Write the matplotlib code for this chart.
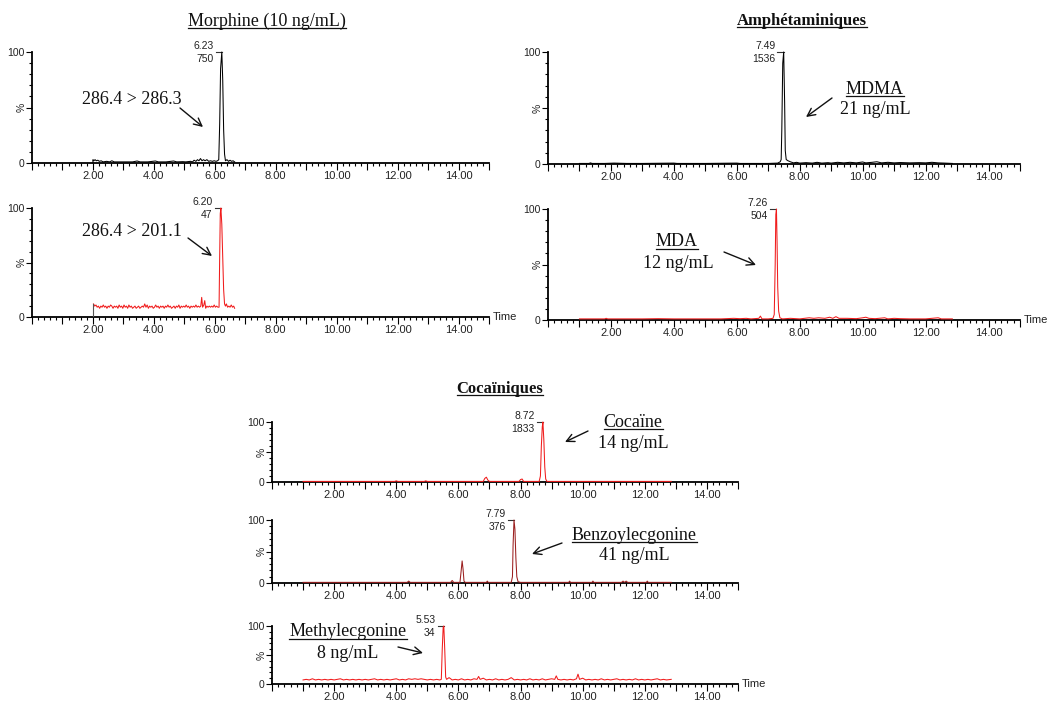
import numpy as np
import matplotlib.pyplot as plt
from matplotlib.ticker import MultipleLocator, FuncFormatter
from matplotlib.lines import Line2D
from matplotlib.patches import FancyArrowPatch
import matplotlib.transforms as mtransforms

# chromatogram traces, (time in min, % of base peak)
morphine_286 = [(2.00, 0), (2.00, 3), (2.03, 2), (2.07, 3), (2.11, 2), (2.16, 2.5), (2.21, 1.5),
                (2.27, 2), (2.33, 1), (2.45, 1.5), (2.55, 1), (2.62, 2), (2.70, 1), (2.90, 1),
                (3.10, 1), (3.30, 1), (3.45, 1.8), (3.55, 1), (3.80, 1), (4.05, 1.8), (4.15, 1),
                (4.40, 1), (4.65, 1.8), (4.75, 1), (4.95, 1.2), (5.05, 1), (5.20, 1.5), (5.27, 1),
                (5.32, 2.5), (5.38, 1.5), (5.43, 3), (5.48, 2), (5.53, 4), (5.58, 2), (5.63, 3),
                (5.68, 2), (5.74, 3), (5.80, 1.5), (5.86, 2), (5.92, 1.5), (5.98, 2), (6.04, 1.5),
                (6.09, 2), (6.13, 3), (6.16, 35), (6.19, 85), (6.23, 100), (6.26, 75), (6.29, 30),
                (6.32, 8), (6.35, 2), (6.40, 3), (6.45, 1.5), (6.50, 2.5), (6.55, 1.5), (6.60, 2),
                (6.65, 1)]

morphine_201 = [(2.02, 12), (2.06, 10), (2.10, 11), (2.14, 9), (2.18, 10), (2.22, 8), (2.26, 10),
                (2.30, 9), (2.34, 11), (2.38, 9), (2.42, 10), (2.46, 8), (2.50, 10), (2.54, 9),
                (2.58, 11), (2.62, 10), (2.66, 8), (2.70, 10), (2.74, 9), (2.78, 10), (2.82, 8),
                (2.86, 11), (2.90, 9), (2.94, 10), (2.98, 8), (3.02, 11), (3.06, 9), (3.10, 10),
                (3.14, 8), (3.18, 11), (3.22, 9), (3.26, 10), (3.30, 8), (3.34, 9), (3.38, 10),
                (3.42, 8), (3.46, 9), (3.50, 10), (3.54, 8), (3.58, 9), (3.62, 10), (3.66, 9),
                (3.70, 12), (3.74, 9), (3.78, 11), (3.82, 8), (3.86, 10), (3.90, 9), (3.94, 10),
                (3.98, 8), (4.02, 9), (4.06, 11), (4.10, 9), (4.14, 10), (4.18, 8), (4.22, 10),
                (4.26, 9), (4.30, 10), (4.34, 8), (4.38, 10), (4.42, 9), (4.46, 11), (4.50, 9),
                (4.54, 10), (4.58, 8), (4.62, 9), (4.66, 10), (4.70, 8), (4.74, 10), (4.78, 9),
                (4.82, 11), (4.86, 8), (4.90, 10), (4.94, 9), (4.98, 10), (5.02, 9), (5.06, 11),
                (5.10, 9), (5.14, 10), (5.18, 8), (5.22, 10), (5.26, 9), (5.30, 10), (5.34, 9),
                (5.38, 11), (5.42, 9), (5.46, 10), (5.50, 9), (5.54, 10), (5.57, 18), (5.60, 9),
                (5.64, 11), (5.67, 15), (5.70, 8), (5.74, 10), (5.78, 9), (5.82, 10), (5.86, 9),
                (5.90, 10), (5.94, 9), (5.98, 11), (6.02, 9), (6.06, 10), (6.10, 9), (6.14, 9),
                (6.16, 55), (6.18, 95), (6.20, 100), (6.23, 85), (6.26, 55), (6.29, 25), (6.32, 12),
                (6.35, 10), (6.38, 12), (6.42, 9), (6.46, 10), (6.50, 9), (6.54, 11), (6.58, 9),
                (6.62, 10), (6.65, 8)]

mdma = [(1.00, 0.5), (1.30, 0.5), (1.35, 1), (1.40, 0.5), (1.80, 0.5), (2.10, 0.8), (2.50, 0.5),
        (3.00, 0.5), (4.00, 0.8), (4.10, 0.5), (5.00, 0.5), (6.00, 0.8), (6.10, 0.5), (7.00, 0.5),
        (7.30, 0.8), (7.38, 2), (7.41, 4), (7.43, 30), (7.46, 90), (7.49, 100), (7.52, 55),
        (7.54, 12), (7.57, 4), (7.62, 3), (7.70, 2), (7.80, 1), (7.90, 1.5), (8.00, 0.8),
        (8.20, 1.2), (8.40, 0.8), (8.55, 1.5), (8.70, 0.8), (8.90, 1.2), (9.00, 0.8), (9.20, 1.5),
        (9.40, 1), (9.60, 1.5), (9.80, 1), (10.00, 1.8), (10.10, 1), (10.30, 1.5), (10.45, 2),
        (10.60, 1), (10.80, 1.5), (11.00, 1), (11.20, 1.3), (11.50, 1), (11.80, 1.2), (12.00, 1),
        (12.20, 1.5), (12.40, 1), (12.60, 0.8), (12.85, 0.5)]

mda = [(1.00, 1), (1.80, 1), (1.85, 1.5), (1.90, 1), (2.50, 1), (3.00, 1), (3.50, 1.2), (4.00, 1),
       (4.50, 1), (5.00, 1), (5.50, 1), (5.90, 1.5), (6.10, 1.2), (6.30, 1.5), (6.45, 1),
       (6.70, 1.5), (6.75, 3.5), (6.80, 1), (7.00, 1), (7.15, 1.5), (7.19, 5), (7.22, 50),
       (7.24, 95), (7.26, 100), (7.28, 70), (7.30, 30), (7.33, 8), (7.37, 2), (7.45, 1),
       (7.70, 1.5), (8.00, 1), (8.30, 2), (8.45, 1.5), (8.60, 2), (8.80, 1.5), (8.95, 2.5),
       (9.05, 1.5), (9.15, 3), (9.25, 1.5), (9.50, 1.5), (9.80, 1.2), (10.00, 2), (10.10, 2.5),
       (10.20, 1.5), (10.40, 1.2), (10.70, 2), (10.80, 1), (11.00, 1.5), (11.20, 1.2),
       (11.50, 1), (12.00, 1), (12.40, 2), (12.50, 1), (12.85, 1)]

cocaine = [(1.00, 1), (2.00, 1), (3.00, 1), (3.95, 1), (4.00, 2), (4.05, 1), (4.90, 1), (4.95, 2),
           (5.00, 1), (6.00, 1), (6.80, 1), (6.85, 6), (6.90, 8), (6.95, 3), (7.00, 1), (7.95, 1),
           (8.00, 4), (8.05, 5), (8.10, 1), (8.60, 1), (8.64, 10), (8.67, 60), (8.70, 92),
           (8.72, 100), (8.75, 70), (8.78, 25), (8.81, 5), (8.85, 1), (9.50, 1), (10.50, 1),
           (11.50, 1), (12.85, 1)]

benzoylecgonine = [(1.00, 1), (2.00, 1), (3.00, 1), (4.35, 1), (4.40, 3), (4.45, 1), (5.75, 1),
                   (5.80, 4), (5.85, 1), (6.05, 1), (6.09, 20), (6.12, 35), (6.15, 22), (6.18, 3),
                   (6.22, 1), (6.90, 1), (6.93, 3), (6.96, 1), (7.70, 1), (7.74, 10), (7.76, 60),
                   (7.79, 100), (7.82, 85), (7.85, 40), (7.88, 10), (7.92, 2), (8.00, 1),
                   (9.55, 1), (9.58, 3), (9.61, 1), (10.30, 1), (10.33, 3), (10.36, 1), (11.25, 1),
                   (11.30, 3), (11.35, 1), (11.40, 3), (11.45, 1), (12.05, 1), (12.08, 3),
                   (12.11, 1), (12.85, 1)]

methylecgonine = [(1.00, 7), (1.10, 8), (1.20, 7), (1.30, 9), (1.40, 7), (1.50, 8), (1.60, 7),
                  (1.70, 8), (1.80, 7), (1.90, 8), (2.00, 7), (2.10, 8), (2.20, 9), (2.30, 7),
                  (2.40, 8), (2.50, 7), (2.60, 8), (2.70, 7), (2.80, 8), (2.90, 7), (3.00, 8),
                  (3.10, 7), (3.20, 8), (3.30, 9), (3.40, 7), (3.50, 8), (3.60, 7), (3.70, 8),
                  (3.80, 7), (3.90, 8), (4.00, 9), (4.10, 7), (4.20, 8), (4.30, 7), (4.40, 9),
                  (4.50, 8), (4.60, 9), (4.70, 8), (4.80, 9), (4.90, 8), (5.00, 7), (5.10, 8),
                  (5.20, 7), (5.30, 8), (5.40, 7), (5.45, 8), (5.48, 60), (5.51, 98), (5.53, 100),
                  (5.56, 60), (5.59, 12), (5.62, 8), (5.70, 11), (5.80, 7), (5.90, 8), (6.00, 7),
                  (6.10, 9), (6.20, 7), (6.30, 8), (6.40, 7), (6.50, 9), (6.60, 8), (6.65, 13),
                  (6.70, 8), (6.80, 10), (6.90, 7), (7.00, 8), (7.10, 7), (7.20, 9), (7.30, 7),
                  (7.40, 8), (7.50, 7), (7.60, 8), (7.70, 11), (7.80, 7), (7.90, 8), (8.00, 7),
                  (8.10, 8), (8.20, 7), (8.30, 9), (8.40, 7), (8.50, 8), (8.60, 7), (8.70, 9),
                  (8.80, 7), (8.90, 8), (9.00, 9), (9.10, 8), (9.15, 14), (9.20, 8), (9.30, 7),
                  (9.40, 8), (9.50, 7), (9.60, 8), (9.70, 7), (9.80, 9), (9.85, 17), (9.90, 8),
                  (10.00, 10), (10.10, 7), (10.20, 8), (10.30, 7), (10.40, 8), (10.50, 7),
                  (10.60, 9), (10.70, 7), (10.80, 8), (10.90, 7), (11.00, 8), (11.10, 9),
                  (11.20, 7), (11.30, 8), (11.40, 7), (11.50, 8), (11.60, 7), (11.70, 9),
                  (11.80, 7), (11.90, 8), (12.00, 7), (12.10, 8), (12.20, 7), (12.30, 8),
                  (12.40, 9), (12.50, 7), (12.60, 8), (12.70, 7), (12.85, 8)]

# peak labels: retention time, intensity
peaks = {
    'morphine_286': (6.23, '750'),
    'morphine_201': (6.20, '47'),
    'mdma': (7.49, '1536'),
    'mda': (7.26, '504'),
    'cocaine': (8.72, '1833'),
    'benzoylecgonine': (7.79, '376'),
    'methylecgonine': (5.53, '34'),
}

W, H = 1051, 702
fig = plt.figure(figsize=(W / 100, H / 100), dpi=100)
plt.rcParams['font.family'] = 'Liberation Sans'
SERIF = 'Liberation Serif'
RED = '#f01c1c'


def rect(x0, x1, y0, y1):
    return [x0 / W, 1 - y1 / H, (x1 - x0) / W, (y1 - y0) / H]


def fxy(x, y):
    return (x / W, 1 - y / H)


def tick_fmt(x, pos):
    if 2 <= x <= 14 and int(round(x)) % 2 == 0:
        return f'{x:.2f}'
    return ''


def panel(box, trace, color, key, time_label=False):
    ax = fig.add_axes(rect(*box))
    t, v = np.array(trace).T
    ax.plot(t, v, color=color, lw=0.75, clip_on=False, zorder=3)
    ax.set_xlim(0, 15)
    ax.set_ylim(0, 100)
    for s in ('top', 'right'):
        ax.spines[s].set_visible(False)
    for s in ('left', 'bottom'):
        ax.spines[s].set_linewidth(1.3)
    ax.xaxis.set_major_locator(MultipleLocator(1))
    ax.xaxis.set_minor_locator(MultipleLocator(0.2))
    ax.xaxis.set_major_formatter(FuncFormatter(tick_fmt))
    ax.set_yticks([0, 50, 100], ['0', '', '100'])
    ax.yaxis.set_minor_locator(MultipleLocator(10))
    ax.tick_params(which='major', length=4, width=0.8, labelsize=7.5, pad=1.2, labelcolor='#222')
    ax.tick_params(which='minor', length=2, width=0.8)
    ax.tick_params(axis='x', which='major', length=5, labelsize=8, pad=1.0)
    trans = mtransforms.blended_transform_factory(ax.transAxes, ax.transData)
    ax.text(-0.012, 50, '%', rotation=90, fontsize=7.5, ha='right', va='center',
            color='#222', transform=trans)
    rt, height = peaks[key]
    ax.plot([rt - 0.2, rt], [100, 100], color='#333', lw=0.8, clip_on=False)
    ax.annotate(f'{rt:.2f}', (rt, 100), xytext=(-6, 0.5), textcoords='offset points',
                ha='right', va='bottom', fontsize=7.5, color='#222')
    ax.annotate(height, (rt, 100), xytext=(-6, -1.5), textcoords='offset points',
                ha='right', va='top', fontsize=7.5, color='#222')
    if time_label:
        ax.text(1.008, 0, 'Time', transform=ax.transAxes, fontsize=8,
                ha='left', va='center', color='#222')
    return ax


ax1 = panel((32, 489, 52, 163), morphine_286, 'black', 'morphine_286')
ax2 = panel((32, 489, 208, 317), morphine_201, RED, 'morphine_201', time_label=True)
ax2.plot([2.0, 2.0], [0, 12], color='#555', lw=0.8, zorder=4)
ax3 = panel((548, 1020, 52, 164), mdma, 'black', 'mdma')
ax4 = panel((548, 1020, 209, 320), mda, RED, 'mda', time_label=True)
ax5 = panel((272, 738, 422, 482), cocaine, RED, 'cocaine')
ax6 = panel((272, 738, 520, 583), benzoylecgonine, '#9b1f1f', 'benzoylecgonine')
ax7 = panel((272, 738, 626, 684), methylecgonine, RED, 'methylecgonine', time_label=True)

underlined = []


def label(x, y, s, size=13, weight='normal', underline=False):
    t = fig.text(*fxy(x, y), s, family=SERIF, fontsize=size, fontweight=weight,
                 ha='center', va='center', color='#111')
    if underline:
        underlined.append(t)
    return t


def arrow(x0, y0, x1, y1):
    fig.add_artist(FancyArrowPatch(fxy(x0, y0), fxy(x1, y1), transform=fig.transFigure,
                                   arrowstyle='->', mutation_scale=14, lw=1.0,
                                   color='#111', shrinkA=0, shrinkB=0))


label(267, 21, 'Morphine (10 ng/mL)', underline=True)
label(802, 21, 'Amphétaminiques', size=12, weight='bold', underline=True)
label(500, 389, 'Cocaïniques', size=12, weight='bold', underline=True)

label(132, 100, '286.4 > 286.3')
arrow(180, 108, 203, 127)
label(132, 232, '286.4 > 201.1')
arrow(188, 238, 212, 256)

label(875, 89, 'MDMA', underline=True)
label(875, 110, '21 ng/mL')
arrow(832, 98, 806, 117)

label(677, 242, 'MDA', underline=True)
label(678, 263, '12 ng/mL')
arrow(724, 252, 756, 265)

label(633, 422, 'Cocaïne', underline=True)
label(633, 444, '14 ng/mL')
arrow(588, 431, 565, 442)

label(634, 535, 'Benzoylecgonine', underline=True)
label(634, 556, '41 ng/mL')
arrow(562, 543, 532, 554)

label(348, 632, 'Methylecgonine', underline=True)
label(348, 653, '8 ng/mL')
arrow(398, 647, 423, 653)

fig.canvas.draw()
for t in underlined:
    bb = t.get_window_extent()
    y = (bb.y0 + 2) / H
    fig.add_artist(Line2D([bb.x0 / W, bb.x1 / W], [y, y], transform=fig.transFigure,
                          color='#111', lw=0.9))

fig.savefig('out.png', dpi=100)
